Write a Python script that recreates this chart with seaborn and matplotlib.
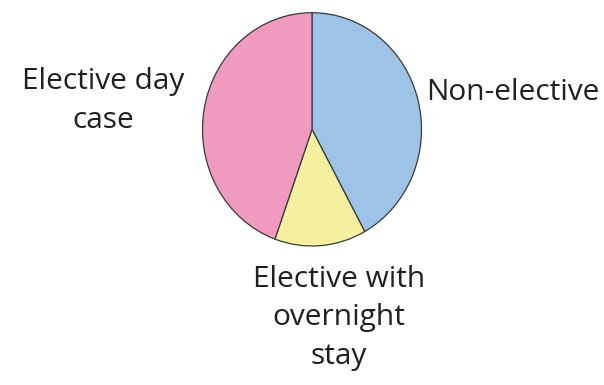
import matplotlib
matplotlib.use("Agg")
import matplotlib.pyplot as plt
import seaborn as sns

# Share of admissions by type (percent)
categories = ["Non-elective", "Elective with\novernight\nstay", "Elective day\ncase"]
shares = [42.0, 13.5, 44.5]
colors = ["#9DC3E6", "#F5F0A0", "#F09ABF"]

sns.set_theme(style="white")
plt.rcParams["font.family"] = ["Open Sans", "DejaVu Sans"]

W, H = 604, 385
fig = plt.figure(figsize=(W / 100, H / 100), dpi=100)
fig.patch.set_facecolor("white")

# Pie axes spans the bounding box of the (slightly tall) ellipse
left, right, top, bottom = 202.5, 421.5, 12.7, 246.0
ax = fig.add_axes([left / W, 1 - bottom / H, (right - left) / W, (bottom - top) / H])
ax.pie(shares, colors=colors, startangle=90, counterclock=False,
       wedgeprops=dict(edgecolor="#3a3a3a", linewidth=0.9))
ax.set_xlim(-1.0, 1.0)
ax.set_ylim(-1.0, 1.0)
ax.set_aspect("auto")
ax.axis("off")

# Labels placed beside their slices (figure pixel positions)
label_pos = [(513, 92), (339, 318), (103, 101)]
for text, (x, y) in zip(categories, label_pos):
    fig.text(x / W, 1 - y / H, text, ha="center", va="center",
             fontsize=21.5, color="#231F20", linespacing=1.45)

fig.savefig("out.png", dpi=100)
